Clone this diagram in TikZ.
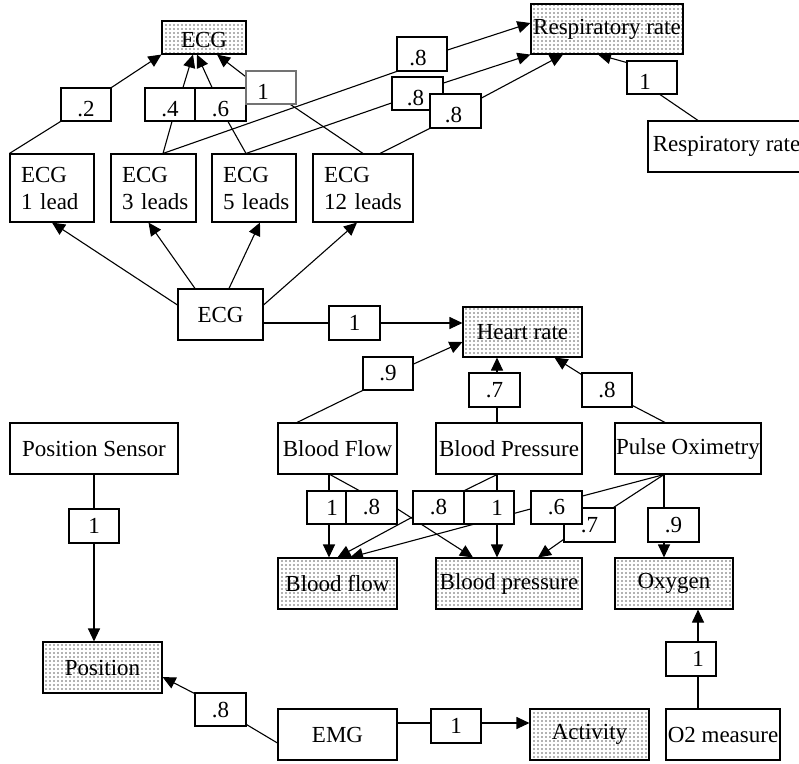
\documentclass[tikz,border=0pt]{standalone}
\usepackage{fontspec}
\setmainfont{Liberation Serif}
\usetikzlibrary{arrows.meta,patterns}
\pgfdeclarepatternformonly{sdots}{\pgfpoint{-1pt}{-1pt}}{\pgfpoint{5pt}{5pt}}{\pgfpoint{4pt}{4pt}}{\pgfpathcircle{\pgfpoint{2pt}{2pt}}{0.8pt}\pgfusepath{fill}}
\pgfdeclarelayer{edges}
\pgfsetlayers{edges,main}
\newcommand\lowtxt[1]{\raisebox{-4pt}[\height][0pt]{#1}}
\begin{document}
\begin{tikzpicture}[x=1pt,y=-1pt,
  base/.style={draw, line width=1.1pt, inner sep=0pt, font=\fontsize{23pt}{27pt}\selectfont},
  src/.style={base, fill=white},
  tgt/.style={base, preaction={fill=white}, pattern=sdots, pattern color=black!60},
  lbl/.style={base, fill=white, minimum width=50, minimum height=33},
  lead/.style={src, minimum height=68, align=left, text width=#1-22, inner xsep=11pt},
  arr/.style={line width=1.1pt, -{Triangle[length=13pt,width=12pt]}}]
\useasboundingbox (0,0) rectangle (799,763);

% targets
\node[tgt, minimum width=84, minimum height=33] (ecgT) at (204,37.5) {\raisebox{-2pt}[\height][0pt]{ECG}};
\node[tgt, minimum width=152, minimum height=50] (respT) at (607,29) {Respiratory rate};
\node[tgt, minimum width=119, minimum height=50] (hrT) at (522.5,332) {Heart rate};
\node[tgt, minimum width=119, minimum height=51] (bflowT) at (337.5,583.5) {Blood flow};
\node[tgt, minimum width=146, minimum height=51] (bpresT) at (509,583.5) {Blood pressure};
\node[tgt, minimum width=118, minimum height=51] (oxyT) at (674,583.5) {Oxygen};
\node[tgt, minimum width=119, minimum height=51] (posT) at (102.5,667.5) {Position};
\node[tgt, minimum width=119, minimum height=51] (actT) at (589.5,734.5) {Activity};

% sources
\node[lead=84, minimum width=84] (lead1) at (52,188) {\mbox{ECG}\\\mbox{1 lead}};
\node[lead=85, minimum width=85] (lead3) at (153.5,188) {\mbox{ECG}\\\mbox{3 leads}};
\node[lead=84, minimum width=84] (lead5) at (254,188) {\mbox{ECG}\\\mbox{5 leads}};
\node[lead=100, minimum width=100] (lead12) at (363,188) {\mbox{ECG}\\\mbox{12 leads}};
\node[src, minimum width=157, minimum height=51] (respS) at (726.5,146.5) {Respiratory rate};
\node[src, minimum width=85, minimum height=51] (ecgS) at (220.5,314.5) {ECG};
\node[src, minimum width=168, minimum height=51] (possS) at (94,448.5) {Position Sensor};
\node[src, minimum width=119, minimum height=51] (bfS) at (337.5,448.5) {Blood Flow};
\node[src, minimum width=146, minimum height=51] (bpS) at (509,448.5) {Blood Pressure};
\node[src, minimum width=146, minimum height=51] (poS) at (688,448.5) {Pulse Oximetry};
\node[src, minimum width=119, minimum height=51] (emgS) at (337.5,734.5) {EMG};
\node[src, minimum width=114, minimum height=51] (o2S) at (723,734.5) {O2 measure};

% labels
\node[lbl] (l2) at (86,104.5) {\lowtxt{.2}};
\node[lbl] (l4) at (170,104.5) {\lowtxt{.4}};
\node[lbl, minimum width=51] (l6) at (220.5,104.5) {\lowtxt{.6}};
\node[lbl, draw=black!55] (l1e) at (271,87.5) {\lowtxt{1\hspace*{16pt}}};
\node[lbl, minimum height=34] (l8a) at (422,54) {\lowtxt{.8\hspace*{8pt}}};
\node[lbl, minimum width=51] (l8b) at (417.5,93.5) {\lowtxt{.8\hspace*{4pt}}};
\node[lbl, minimum width=51, minimum height=34] (l8c) at (455.5,111) {\lowtxt{.8\hspace*{4pt}}};
\node[lbl] (l1r) at (652,77.5) {\lowtxt{1\hspace*{14pt}}};
\node[lbl, minimum width=51, minimum height=34] (l1h) at (354.5,323) {1};
\node[lbl] (l9h) at (388,373.5) {.9};
\node[lbl, minimum width=51, minimum height=34] (l7h) at (494.5,390) {.7};
\node[lbl, minimum height=34] (l8h) at (607,390) {.8};
\node[lbl] (l1bf) at (332,507.5) {1};
\node[lbl, minimum width=51] (l8bfbp) at (371.5,507.5) {.8};
\node[lbl, minimum width=51] (l8bpbf) at (438.5,507.5) {.8};
\node[lbl] (l1bp) at (489,507.5) {\hspace*{16pt}1};
\node[lbl, minimum width=51, minimum height=34] (l7po) at (589.5,525) {.7};
\node[lbl, minimum width=51] (l6po) at (556.5,507.5) {.6};
\node[lbl, minimum width=51, minimum height=34] (l9po) at (673.5,525) {.9};
\node[lbl, minimum height=34] (l1pos) at (94,526) {1};
\node[lbl, minimum width=51] (l8emg) at (220.5,709.5) {.8};
\node[lbl, minimum height=34] (l1emg) at (456,726) {1};
\node[lbl, minimum height=34] (l1o2) at (691,659) {\hspace*{14pt}1};

\begin{pgfonlayer}{edges}
% to ECG (top)
\draw[arr] (lead1.north west) -- (l2.south west) -- (l2.north east) -- (ecgT.south west);
\draw[arr] ([shift={(9.5,0)}]lead3.north) -- ([shift={(2,0)}]l4.south) -- ([shift={(13,0)}]l4.north) -- ([shift={(-11,0)}]ecgT.south);
\draw[arr] ([shift={(-8,0)}]lead5.north) -- ([shift={(7.5,0)}]l6.south) -- ([shift={(-8.5,0)}]l6.north) -- ([shift={(-7,0)}]ecgT.south);
\draw[arr] (lead12.north) -- ([shift={(-6,0)}]l1e.south east) -- ([shift={(0,6)}]l1e.north west) -- ([shift={(13,0)}]ecgT.south);
% to Respiratory rate
\draw[arr] ([shift={(9.5,0)}]lead3.north) -- (l8a.south west) -- ([shift={(0,-4)}]l8a.east) -- ([shift={(0,-6)}]respT.west);
\draw[arr] ([shift={(-8,0)}]lead5.north) -- ([shift={(0,9.5)}]l8b.west) -- ([shift={(0,-10.5)}]l8b.east) -- (respT.south west);
\draw[arr] ([shift={(17,0)}]lead12.north) -- (l8c.south west) -- ([shift={(0,-13)}]l8c.east) -- ([shift={(-44,0)}]respT.south);
\draw[arr] ([shift={(-28.5,0)}]respS.north) -- ([shift={(8,0)}]l1r.south) -- ([shift={(0,2)}]l1r.north west) -- ([shift={(-9,0)}]respT.south);
% ECG to leads
\draw[arr] ([shift={(0,-9.5)}]ecgS.west) -- (lead1.south);
\draw[arr] ([shift={(-25.5,0)}]ecgS.north) -- ([shift={(-5,0)}]lead3.south);
\draw[arr] ([shift={(8.5,0)}]ecgS.north) -- ([shift={(6,0)}]lead5.south);
\draw[arr] ([shift={(0,-9.5)}]ecgS.east) -- ([shift={(-6,0)}]lead12.south);
% Heart rate
\draw[arr] ([shift={(0,8.5)}]ecgS.east) -- (l1h) -- ([shift={(0,-9)}]hrT.west);
\draw[arr] ([shift={(-40.5,0)}]bfS.north) -- (l9h.south west) -- ([shift={(0,-9.5)}]l9h.east) -- ([shift={(0,10)}]hrT.west);
\draw[arr] ([shift={(-12,0)}]bpS.north) -- ([shift={(-25.5,0)}]hrT.south);
\draw[arr] ([shift={(-23,0)}]poS.north) -- ([shift={(0,-2)}]l8h.south east) -- ([shift={(0,2)}]l8h.north west) -- ([shift={(32,0)}]hrT.south);
% Blood flow / pressure / oxygen
\draw[arr] ([shift={(-8.5,0)}]bfS.south) -- ([shift={(-8.5,0)}]bflowT.north);
\draw[arr] ([shift={(-7.5,0)}]bfS.south) -- ([shift={(-12.5,0)}]l8bfbp.north) -- ([shift={(0,1.5)}]l8bfbp.east) -- ([shift={(-36,0)}]bpresT.north);
\draw[arr] ([shift={(-12,0)}]bpS.south) -- (l8bpbf.north east) -- ([shift={(0,9.5)}]l8bpbf.west) -- (bflowT.north);
\draw[arr] ([shift={(-12,0)}]bpS.south) -- ([shift={(-12,0)}]bpresT.north);
\draw[arr] ([shift={(-24,0)}]poS.south) -- ([shift={(0,-11.5)}]l6po.east) -- ([shift={(0,1.5)}]l6po.west) -- ([shift={(12.5,0)}]bflowT.north);
\draw[arr] ([shift={(-24,0)}]poS.south) -- ([shift={(-2,0)}]l7po.north east) -- ([shift={(0,-3)}]l7po.south west) -- ([shift={(29,0)}]bpresT.north);
\draw[arr] ([shift={(-24,0)}]poS.south) -- ([shift={(-10,0)}]oxyT.north);
% Position, Activity, O2
\draw[arr] (possS.south) -- ([shift={(-8.5,0)}]posT.north);
\draw[arr] ([shift={(0,8.5)}]emgS.west) -- ([shift={(0,-2)}]l8emg.south east) -- ([shift={(0,1)}]l8emg.north west) -- ([shift={(0,9.5)}]posT.east);
\draw[arr] ([shift={(0,-11.5)}]emgS.east) -- ([shift={(0,-11.5)}]actT.west);
\draw[arr] ([shift={(-25,0)}]o2S.north) -- ([shift={(24,0)}]oxyT.south);
\end{pgfonlayer}
\end{tikzpicture}
\end{document}
